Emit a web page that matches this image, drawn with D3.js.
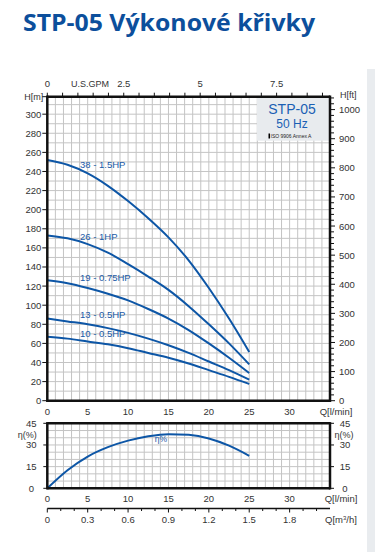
<!DOCTYPE html>
<html><head><meta charset="utf-8">
<script src="https://cdn.jsdelivr.net/npm/d3@7"></script>
<style>body{margin:0;background:#fff;}svg{display:block;}</style>
</head><body>
<script>
// ---- data ----
const flowQ = [0, 2.5, 5, 7.5, 10, 12.5, 15, 17.5, 20, 22.5, 25];
const seriesNames = ["38 - 1.5HP", "26 - 1HP", "19 - 0.75HP", "13 - 0.5HP", "10 - 0.5HP"];
const head38 = [252, 247, 238, 225, 209, 191, 171, 147, 118, 86, 51];
const head26 = [173, 170, 164, 155, 143, 130, 116, 99, 80, 60, 38];
const head19 = [126, 123, 118, 112, 105, 96, 86, 74, 60, 45, 29];
const head13 = [86, 83, 80, 76, 71, 65, 58, 50, 41, 32, 22];
const head10 = [67, 65, 62, 59, 55, 50, 45, 39, 32, 25, 17.5];
const efficiency = [0, 12.5, 22, 28.5, 33, 36, 37.5, 37, 34.5, 29.5, 22.5];
const qTicks = [0, 5, 10, 15, 20, 25, 30];
const hTicks = [0, 20, 40, 60, 80, 100, 120, 140, 160, 180, 200, 220, 240, 260, 280, 300];
const ftTicks = [0, 100, 200, 300, 400, 500, 600, 700, 800, 900, 1000];
const gpmTicks = [0, 2.5, 5, 7.5];
const effTicks = [0, 15, 30, 45];
const m3hTicks = [0, 0.3, 0.6, 0.9, 1.2, 1.5, 1.8];

const W = 375, H = 552;
const svg = d3.select("body").append("svg").attr("width", W).attr("height", H)
  .style("font-family", "'Liberation Sans', Arial, sans-serif");

// right gray panel
svg.append("rect").attr("x", 367).attr("y", 69).attr("width", 8).attr("height", H - 69).attr("fill", "#e9ecef");

// title
svg.append("text").attr("x", 23).attr("y", 31).text("STP-05 Výkonové křivky")
  .attr("font-family", "'Open Sans', sans-serif").attr("font-weight", 700).attr("font-size", 23)
  .attr("fill", "#0c4f9c").attr("textLength", 292).attr("lengthAdjust", "spacingAndGlyphs");

const L = 47.3, R = 330;
const x = d3.scaleLinear().domain([0, 35]).range([L, R]);
const mTop = 96.7, mBot = 400.7;
const y = d3.scaleLinear().domain([0, 318.3]).range([mBot, mTop]);
const yFt = d3.scaleLinear().domain([0, 318.3 / 0.3048]).range([mBot, mTop]);
const xGpm = d3.scaleLinear().domain([0, 35 / 3.78541]).range([L, R]);

const eTop = 423.3, eBot = 488.3;
const ye = d3.scaleLinear().domain([0, 45]).range([eBot, eTop]);
const xM3 = d3.scaleLinear().domain([0, 35 * 0.06]).range([L, R]);

const gridC = "#c4c4c4", blue = "#0d56a6", txtC = "#333";

// --- main grid ---
const g = svg.append("g");
g.selectAll(".vg").data(d3.range(1, 35)).join("line")
  .attr("x1", d => x(d)).attr("x2", d => x(d)).attr("y1", mTop).attr("y2", mBot)
  .attr("stroke", gridC).attr("stroke-width", 1);
g.selectAll(".hg").data(d3.range(10, 318, 10)).join("line")
  .attr("x1", L).attr("x2", R).attr("y1", d => y(d)).attr("y2", d => y(d))
  .attr("stroke", gridC).attr("stroke-width", 1);

// info box
g.append("rect").attr("x", 257).attr("y", mTop).attr("width", R - 257).attr("height", 44).attr("fill", "#e8ebee");
g.append("text").attr("x", 292).attr("y", 114).attr("text-anchor", "middle").attr("font-size", 14).attr("fill", "#1a5fb4").text("STP-05");
g.append("text").attr("x", 292).attr("y", 128).attr("text-anchor", "middle").attr("font-size", 12).attr("fill", "#1a5fb4").text("50 Hz");
g.append("rect").attr("x", 268.5).attr("y", 133.5).attr("width", 1.5).attr("height", 5).attr("fill", "#000");
g.append("text").attr("x", 270.5).attr("y", 138).attr("font-size", 5).attr("fill", "#222").text("ISO 9906 Annex A");

// curves
const line = d3.line().curve(d3.curveMonotoneX);
const heads = [head38, head26, head19, head13, head10];
heads.forEach((hs, i) => {
  g.append("path").attr("d", line(flowQ.map((q, k) => [x(q), y(hs[k])])))
    .attr("fill", "none").attr("stroke", blue).attr("stroke-width", 2);
});
const labelY = [168, 240, 281, 318, 337];
seriesNames.forEach((n, i) => {
  g.append("text").attr("x", 80).attr("y", labelY[i]).attr("font-size", 9.5).attr("fill", "#1a5aa8").text(n);
});

// axes frame main
const frame = (x1, y1, x2, y2, w) => svg.append("line").attr("x1", x1).attr("y1", y1).attr("x2", x2).attr("y2", y2)
  .attr("stroke", "#111").attr("stroke-width", w);

// left axis
const ax = svg.append("g");
ax.selectAll(".lt").data(hTicks).join("line").attr("x1", L - 5).attr("x2", L).attr("y1", d => y(d)).attr("y2", d => y(d)).attr("stroke", "#111");
ax.selectAll(".ll").data(hTicks).join("text").attr("x", L - 6).attr("y", d => y(d) + 3.5).attr("text-anchor", "end")
  .attr("font-size", 9.5).attr("fill", txtC).text(d => d);
ax.append("text").attr("x", L - 4).attr("y", mTop + 3.5).attr("text-anchor", "end").attr("font-size", 9).attr("fill", txtC).text("H[m]");
ax.append("line").attr("x1", L - 5).attr("x2", L).attr("y1", mTop).attr("y2", mTop).attr("stroke", "#111");

// right ft axis
ax.selectAll(".rt").data(d3.range(0, 1044, 20)).join("line").attr("x1", R).attr("x2", d => R + (d % 100 === 0 ? 5 : 4))
  .attr("y1", d => yFt(d)).attr("y2", d => yFt(d)).attr("stroke", "#111");
ax.selectAll(".rl").data(ftTicks).join("text").attr("x", R + 9).attr("y", d => yFt(d) + 3.5)
  .attr("font-size", 9.5).attr("fill", txtC).text(d => d);
ax.append("text").attr("x", R + 10).attr("y", mTop + 1).attr("font-size", 9).attr("fill", txtC).text("H[ft]");

// top gpm axis
ax.selectAll(".tt").data(d3.range(0, 9.01, 0.5)).join("line").attr("x1", d => xGpm(d)).attr("x2", d => xGpm(d))
  .attr("y1", mTop).attr("y2", mTop - 4).attr("stroke", "#111");
ax.selectAll(".tl").data(gpmTicks).join("text").attr("x", d => xGpm(d)).attr("y", 87).attr("text-anchor", "middle")
  .attr("font-size", 9.5).attr("fill", txtC).text(d => d);
ax.append("text").attr("x", 90).attr("y", 87).attr("text-anchor", "middle").attr("font-size", 9).attr("fill", txtC).text("U.S.GPM");

// bottom q axis (main)
ax.selectAll(".bl").data(qTicks).join("text").attr("x", d => x(d)).attr("y", 415).attr("text-anchor", "middle")
  .attr("font-size", 9.5).attr("fill", txtC).text(d => d);
ax.append("text").attr("x", 336).attr("y", 415).attr("text-anchor", "middle").attr("font-size", 9.5).attr("fill", txtC).text("Q[l/min]");

frame(L, mTop, R, mTop, 2.5);
frame(L, mBot, R, mBot, 2.5);
frame(L, mTop - 1.2, L, mBot + 1.2, 2.5);
frame(R, mTop - 1.2, R, mBot + 1.2, 2.5);

// --- efficiency chart ---
const ge = svg.append("g");
ge.selectAll(".vg").data(d3.range(1, 35)).join("line")
  .attr("x1", d => x(d)).attr("x2", d => x(d)).attr("y1", eTop).attr("y2", eBot).attr("stroke", gridC);
ge.selectAll(".hg").data(d3.range(5, 45, 5)).join("line")
  .attr("x1", L).attr("x2", R).attr("y1", d => ye(d)).attr("y2", d => ye(d)).attr("stroke", gridC);
ge.append("path").attr("d", line(flowQ.map((q, k) => [x(q), ye(efficiency[k])])))
  .attr("fill", "none").attr("stroke", blue).attr("stroke-width", 2);
ge.append("text").attr("x", 161).attr("y", 442).attr("text-anchor", "middle").attr("font-size", 8.5).attr("fill", "#1a5aa8").text("η%");

ge.selectAll(".elt").data(effTicks).join("line").attr("x1", L - 4).attr("x2", L).attr("y1", d => ye(d)).attr("y2", d => ye(d)).attr("stroke", "#111");
ge.selectAll(".ert").data(effTicks).join("line").attr("x1", R).attr("x2", R + 4).attr("y1", d => ye(d)).attr("y2", d => ye(d)).attr("stroke", "#111");
ge.selectAll(".ell").data(effTicks).join("text").attr("x", L - 16).attr("y", d => ye(d) + 3.5).attr("text-anchor", "middle")
  .attr("font-size", 9.5).attr("fill", txtC).text(d => d);
ge.selectAll(".erl").data(effTicks).join("text").attr("x", R + 15).attr("y", d => ye(d) + 3.5).attr("text-anchor", "middle")
  .attr("font-size", 9.5).attr("fill", txtC).text(d => d);
ge.append("text").attr("x", L - 20).attr("y", 438).attr("text-anchor", "middle").attr("font-size", 9).attr("fill", txtC).text("η(%)");
ge.append("text").attr("x", R + 14).attr("y", 438).attr("text-anchor", "middle").attr("font-size", 9).attr("fill", txtC).text("η(%)");

ge.selectAll(".ebl").data(qTicks).join("text").attr("x", d => x(d)).attr("y", 502).attr("text-anchor", "middle")
  .attr("font-size", 9.5).attr("fill", txtC).text(d => d);
ge.append("text").attr("x", 341).attr("y", 502).attr("text-anchor", "middle").attr("font-size", 9.5).attr("fill", txtC).text("Q[l/min]");

frame(L, eTop, R, eTop, 2.5);
frame(L, eBot, R, eBot, 2.5);
frame(L, eTop - 1.2, L, eBot + 1.2, 2.5);
frame(R, eTop - 1.2, R, eBot + 1.2, 2.5);

// m3/h axis
const am = svg.append("g");
const mY = 508.5;
am.append("line").attr("x1", L).attr("x2", R).attr("y1", mY).attr("y2", mY).attr("stroke", "#111").attr("stroke-width", 1.5);
am.selectAll(".mt").data(d3.range(0, 21)).join("line").attr("x1", d => xM3(d / 10)).attr("x2", d => xM3(d / 10))
  .attr("y1", mY).attr("y2", d => mY + (d % 3 === 0 ? 4 : 2.5)).attr("stroke", "#111");
am.selectAll(".ml").data(m3hTicks).join("text").attr("x", d => xM3(d)).attr("y", 523).attr("text-anchor", "middle")
  .attr("font-size", 9.5).attr("fill", txtC).text(d => d);
const mt = am.append("text").attr("x", 341).attr("y", 523).attr("text-anchor", "middle").attr("font-size", 9.5).attr("fill", txtC);
mt.append("tspan").text("Q[m");
mt.append("tspan").attr("font-size", 6).attr("dy", -3.5).text("3");
mt.append("tspan").attr("dy", 3.5).text("/h]");
</script>
</body></html>
